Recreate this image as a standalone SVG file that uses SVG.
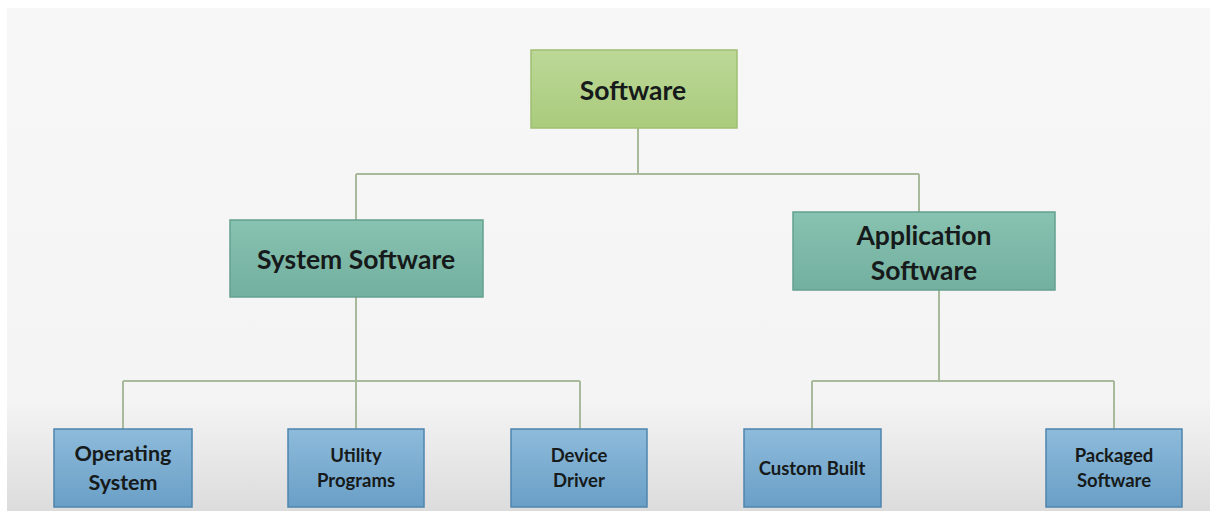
<svg xmlns="http://www.w3.org/2000/svg" width="1210" height="511" viewBox="0 0 1210 511">
<defs>
<linearGradient id="bg" x1="0" y1="0" x2="0" y2="1">
<stop offset="0" stop-color="#f7f7f7"/>
<stop offset="0.78" stop-color="#f4f4f4"/>
<stop offset="1" stop-color="#dcdcdc"/>
</linearGradient>
<linearGradient id="gGreen" x1="0" y1="0" x2="0" y2="1">
<stop offset="0" stop-color="#bcd897"/>
<stop offset="1" stop-color="#aacb7c"/>
</linearGradient>
<linearGradient id="gTeal" x1="0" y1="0" x2="0" y2="1">
<stop offset="0" stop-color="#88c2b1"/>
<stop offset="1" stop-color="#73b09f"/>
</linearGradient>
<linearGradient id="gBlue" x1="0" y1="0" x2="0" y2="1">
<stop offset="0" stop-color="#8dbbdb"/>
<stop offset="1" stop-color="#6a9fc6"/>
</linearGradient>
<style>
.lbl{font-family:Lato,"Open Sans","Liberation Sans",sans-serif;font-weight:bold;fill:#161a1a;text-anchor:middle}
.big{font-size:26.5px}
.mid{font-size:21.5px}
.sm{font-size:18.5px}
.conn{fill:none;stroke:#a9b99c;stroke-width:2}
</style>
</defs>
<rect x="0" y="0" width="1210" height="511" fill="#ffffff"/>
<rect x="7" y="8" width="1203" height="503" fill="url(#bg)"/>
<g id="connectors">
<path class="conn" d="M638 128 V174 M356 174 H919 M356 174 V220 M919 174 V212"/>
<path class="conn" d="M356 297 V381 M123 381 H580 M123 381 V429 M356 381 V429 M580 381 V429"/>
<path class="conn" d="M939 290 V381 M812 381 H1114 M812 381 V429 M1114 381 V429"/>
</g>
<g id="node-software">
<rect x="531" y="50" width="206" height="78" fill="url(#gGreen)" stroke="#9fbf72" stroke-width="1.5"/>
<text class="lbl big" x="633" y="100">Software</text>
</g>
<g id="node-system-software">
<rect x="230" y="220" width="253" height="77" fill="url(#gTeal)" stroke="#63a08f" stroke-width="1.5"/>
<text class="lbl big" x="356" y="269">System Software</text>
</g>
<g id="node-application-software">
<rect x="793" y="212" width="262" height="78" fill="url(#gTeal)" stroke="#63a08f" stroke-width="1.5"/>
<text class="lbl big" x="924" y="245">Application</text>
<text class="lbl big" x="924" y="280">Software</text>
</g>
<g id="node-operating-system">
<rect x="54" y="429" width="138" height="78" fill="url(#gBlue)" stroke="#4f84ad" stroke-width="1.5"/>
<text class="lbl mid" x="123" y="461">Operating</text>
<text class="lbl mid" x="123" y="490">System</text>
</g>
<g id="node-utility-programs">
<rect x="288" y="429" width="136" height="78" fill="url(#gBlue)" stroke="#4f84ad" stroke-width="1.5"/>
<text class="lbl sm" x="356" y="462">Utility</text>
<text class="lbl sm" x="356" y="487">Programs</text>
</g>
<g id="node-device-driver">
<rect x="511" y="429" width="136" height="78" fill="url(#gBlue)" stroke="#4f84ad" stroke-width="1.5"/>
<text class="lbl sm" x="579" y="462">Device</text>
<text class="lbl sm" x="579" y="487">Driver</text>
</g>
<g id="node-custom-built">
<rect x="744" y="429" width="137" height="78" fill="url(#gBlue)" stroke="#4f84ad" stroke-width="1.5"/>
<text class="lbl sm" x="812" y="475">Custom Built</text>
</g>
<g id="node-packaged-software">
<rect x="1046" y="429" width="136" height="78" fill="url(#gBlue)" stroke="#4f84ad" stroke-width="1.5"/>
<text class="lbl sm" x="1114" y="462">Packaged</text>
<text class="lbl sm" x="1114" y="487">Software</text>
</g>
</svg>
